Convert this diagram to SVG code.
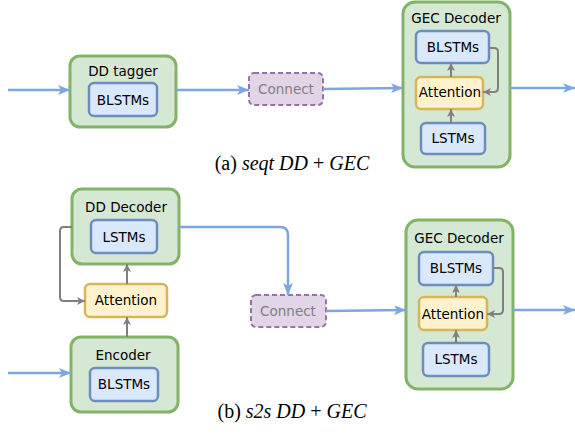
<svg xmlns="http://www.w3.org/2000/svg" width="575" height="434" viewBox="0 0 575 434">
  <style>
    .outer { fill: #d5e8d4; stroke: #82b366; stroke-width: 3; }
    .inner { fill: #dae8fc; stroke: #6c8ebf; stroke-width: 2.5; }
    .attn { fill: #fff2cc; stroke: #d6b656; stroke-width: 2.5; }
    .conn { fill: #e1d5e7; stroke: #9673a6; stroke-width: 2; stroke-dasharray: 5 3; }
    .lbl { font-family: "DejaVu Sans", Verdana, sans-serif; font-size: 13.5px; fill: #000; text-anchor: middle; }
    .lbl.grey { fill: #808080; }
    .cap { font-family: "Liberation Serif", "Times New Roman", serif; font-size: 20px; fill: #000; text-anchor: middle; }
    .flow { fill: none; stroke: #7ea6e0; stroke-width: 2.5; marker-end: url(#blueHead); }
    .ctl { fill: none; stroke: #808080; stroke-width: 2; marker-end: url(#greyHead); }
  </style>
  <defs>
    <marker id="blueHead" viewBox="0 0 12 10" markerWidth="12" markerHeight="10" refX="12" refY="5" orient="auto" markerUnits="userSpaceOnUse">
      <path d="M0,0 L12,5 L0,10 L3,5 Z" fill="#7ea6e0"/>
    </marker>
    <marker id="greyHead" viewBox="0 0 8 8" markerWidth="8" markerHeight="8" refX="8" refY="4" orient="auto" markerUnits="userSpaceOnUse">
      <path d="M0,0 L8,4 L0,8 L2,4 Z" fill="#808080"/>
    </marker>
  </defs>

  <!-- (a) pipeline -->
  <g id="dd-tagger">
    <rect class="outer" x="70" y="56" width="106" height="71" rx="10"/>
    <text class="lbl" x="123" y="76">DD tagger</text>
    <rect class="inner" x="89" y="83" width="68" height="33" rx="5"/>
    <text class="lbl" x="123" y="105">BLSTMs</text>
  </g>
  <g id="connect-a">
    <rect class="conn" x="249" y="73" width="74" height="32" rx="5"/>
    <text class="lbl grey" x="286" y="94">Connect</text>
  </g>
  <g id="gec-decoder-a">
    <rect class="outer" x="403" y="2" width="107" height="165" rx="12"/>
    <text class="lbl" x="456" y="23">GEC Decoder</text>
    <rect class="inner" x="416" y="31" width="73" height="32" rx="5"/>
    <text class="lbl" x="453" y="52">BLSTMs</text>
    <rect class="attn" x="416" y="77" width="67" height="32" rx="5"/>
    <text class="lbl" x="450" y="97">Attention</text>
    <rect class="inner" x="421" y="123" width="64" height="31" rx="5"/>
    <text class="lbl" x="453" y="143">LSTMs</text>
  </g>

  <!-- (b) pipeline -->
  <g id="dd-decoder">
    <rect class="outer" x="72" y="189" width="107" height="75" rx="10"/>
    <text class="lbl" x="126" y="212">DD Decoder</text>
    <rect class="inner" x="91" y="220" width="66" height="33" rx="5"/>
    <text class="lbl" x="124" y="242">LSTMs</text>
  </g>
  <g id="attention-b">
    <rect class="attn" x="85" y="284" width="82" height="33" rx="5"/>
    <text class="lbl" x="126" y="305">Attention</text>
  </g>
  <g id="encoder">
    <rect class="outer" x="71" y="337" width="107" height="75" rx="10"/>
    <text class="lbl" x="123" y="360">Encoder</text>
    <rect class="inner" x="90" y="368" width="68" height="33" rx="5"/>
    <text class="lbl" x="124" y="389">BLSTMs</text>
  </g>
  <g id="connect-b">
    <rect class="conn" x="251" y="295" width="75" height="32" rx="5"/>
    <text class="lbl grey" x="288" y="316">Connect</text>
  </g>
  <g id="gec-decoder-b">
    <rect class="outer" x="406" y="220" width="107" height="169" rx="12"/>
    <text class="lbl" x="459" y="243">GEC Decoder</text>
    <rect class="inner" x="419" y="252" width="74" height="33" rx="5"/>
    <text class="lbl" x="456" y="273">BLSTMs</text>
    <rect class="attn" x="419" y="297" width="68" height="33" rx="5"/>
    <text class="lbl" x="453" y="319">Attention</text>
    <rect class="inner" x="423" y="343" width="66" height="33" rx="5"/>
    <text class="lbl" x="456" y="364">LSTMs</text>
  </g>

  <g id="connectors">
    <!-- (a) -->
    <path class="flow" d="M8,90 L70,90"/>
    <path class="flow" d="M176,90 L249,90"/>
    <path class="flow" d="M323,89 L403,88"/>
    <path class="flow" d="M510,88 L575,88"/>
    <path class="ctl" d="M451,123 L451,109"/>
    <path class="ctl" d="M451,77 L451,63"/>
    <path class="ctl" d="M489,48 L494,48 Q498,48 498,52 L498,88 Q498,92 494,92 L483,92"/>
    <!-- (b) -->
    <path class="flow" d="M8,373 L71,373"/>
    <path class="ctl" d="M127,337 L127,317"/>
    <path class="ctl" d="M127,284 L127,264"/>
    <path class="ctl" d="M72,227 L64,227 Q60,227 60,231 L60,297 Q60,301 64,301 L85,301"/>
    <path class="flow" d="M179,227 L280,227 Q288,227 288,235 L288,295"/>
    <path class="flow" d="M326,311 L406,310"/>
    <path class="flow" d="M513,310 L575,310"/>
    <path class="ctl" d="M456,343 L456,330"/>
    <path class="ctl" d="M456,297 L456,285"/>
    <path class="ctl" d="M493,268 L499,268 Q503,268 503,272 L503,310 Q503,314 499,314 L487,314"/>
  </g>

  <text class="cap" x="292" y="170">(a) <tspan font-style="italic">seqt DD</tspan> + <tspan font-style="italic">GEC</tspan></text>
  <text class="cap" x="292" y="418">(b) <tspan font-style="italic">s2s DD</tspan> + <tspan font-style="italic">GEC</tspan></text>
</svg>
